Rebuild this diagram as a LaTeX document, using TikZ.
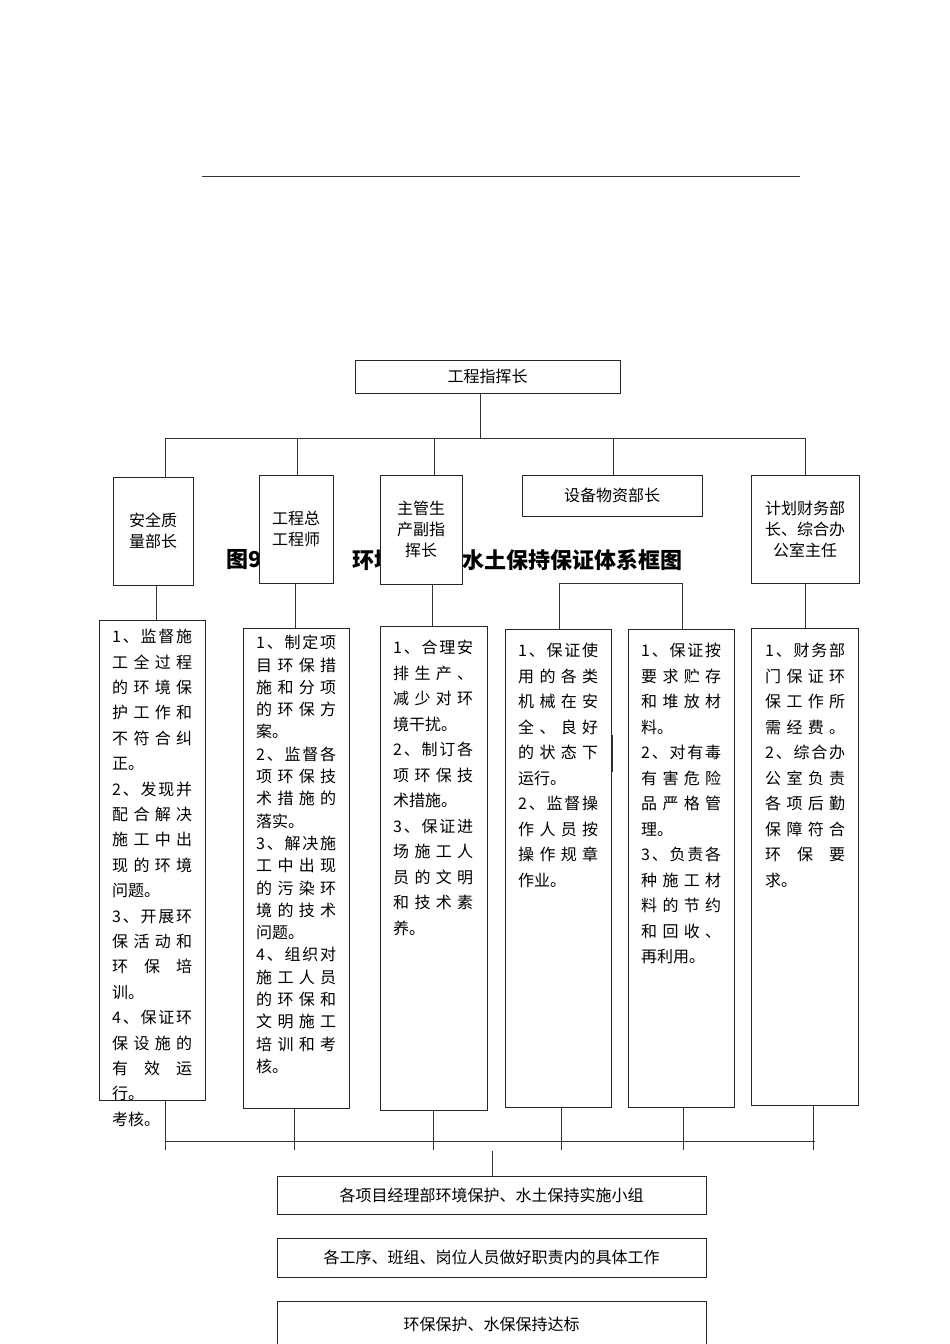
\documentclass[tikz,border=0pt]{standalone}
\usepackage{fontspec}
\setmainfont{Noto Sans CJK SC}
\newfontfamily\cjk{Noto Sans CJK SC}
\ExplSyntaxOn
\cs_new:Npn \spreadln #1 { \makebox[80pt][s]{ \tl_map_inline:nn {#1} { ##1 \hfil } \unskip } }
\ExplSyntaxOff
\newcommand\SL[1]{\spreadln{#1}}
\begin{document}
\begin{tikzpicture}[x=1pt,y=-1pt,
  box/.style={draw=black!85,line width=0.8pt,fill=white,inner sep=0pt,align=center,font=\fontsize{16}{21}\selectfont},
  txt/.style={anchor=north west,inner sep=0pt,align=left},
  ln/.style={draw=black!80,line width=0.8pt}]
\useasboundingbox (0,0) rectangle (950,1344);
\draw[ln] (202,176) coordinate (hl) -- (800,176) coordinate (hr);
% title (behind boxes)
\node[anchor=west,inner sep=0pt,font=\fontsize{22}{22}\selectfont\bfseries] (t1) at (226,560) {图9};
\node[anchor=west,inner sep=0pt,font=\fontsize{22}{22}\selectfont\bfseries] (t2) at (352,560) {环境保护、水土保持保证体系框图};
% top
\node[box,minimum width=265pt,minimum height=33pt] (top) at (487.5,376.5) {工程指挥长};
\coordinate (bus) at (480,438);
\draw[ln] (top.south -| 480,0) -- (bus);
\draw[ln] (165,438) -- (805,438);
\node[box,minimum width=80pt,minimum height=108pt] (A) at (153,531) {安全质\\量部长};
\node[box,minimum width=74pt,minimum height=108pt] (B) at (296,529) {工程总\\工程师};
\node[box,minimum width=82pt,minimum height=109pt] (C) at (421,529.5) {主管生\\产副指\\挥长};
\node[box,minimum width=180pt,minimum height=41pt] (D) at (612,495.5) {设备物资部长};
\node[box,minimum width=108pt,minimum height=108pt] (E) at (805,529) {计划财务部\\长、综合办\\公室主任};
\draw[ln] (165,438) -- (A.north -| 165,0);
\draw[ln] (297,438) -- (B.north -| 297,0);
\draw[ln] (434,438) -- (C.north -| 434,0);
\draw[ln] (613,438) -- (D.north -| 613,0);
\draw[ln] (805,438) -- (E.north);
% lower boxes
\node[box,minimum width=106pt,minimum height=480pt] (A2) at (152,860) {};
\node[box,minimum width=106pt,minimum height=480pt] (B2) at (296,868) {};
\node[box,minimum width=107pt,minimum height=484pt] (C2) at (433.5,868) {};
\node[box,minimum width=106pt,minimum height=478pt] (D1) at (558,868) {};
\node[box,minimum width=106pt,minimum height=478pt] (D2) at (681,868) {};
\node[box,minimum width=107pt,minimum height=477pt] (E2) at (804.5,866.5) {};
\draw[ln] (A.south -| 156,0) -- (A2.north -| 156,0);
\draw[ln] (B.south -| 295,0) -- (B2.north -| 295,0);
\draw[ln] (C.south -| 432,0) -- (C2.north -| 432,0);
\draw[ln] (D1.north -| 559,0) -- (559,583) -- (682,583) -- (D2.north -| 682,0);
\draw[ln] (E.south -| 805,0) -- (E2.north -| 805,0);
\draw[ln] (612,735) -- (612,772);
% texts
\node[txt,font=\fontsize{16}{25.4}\selectfont] (ta) at (112,629) {\SL{1、监督施}\\\SL{工全过程}\\\SL{的环境保}\\\SL{护工作和}\\\SL{不符合纠}\\正。\\\SL{2、发现并}\\\SL{配合解决}\\\SL{施工中出}\\\SL{现的环境}\\问题。\\\SL{3、开展环}\\\SL{保活动和}\\\SL{环保培}\\训。\\\SL{4、保证环}\\\SL{保设施的}\\\SL{有效运}\\行。\\考核。};
\node[txt,font=\fontsize{16}{22.3}\selectfont] (tb) at (256,635) {\SL{1、制定项}\\\SL{目环保措}\\\SL{施和分项}\\\SL{的环保方}\\案。\\\SL{2、监督各}\\\SL{项环保技}\\\SL{术措施的}\\落实。\\\SL{3、解决施}\\\SL{工中出现}\\\SL{的污染环}\\\SL{境的技术}\\问题。\\\SL{4、组织对}\\\SL{施工人员}\\\SL{的环保和}\\\SL{文明施工}\\\SL{培训和考}\\核。};
\node[txt,font=\fontsize{16}{25.5}\selectfont] (tc) at (393,640) {\SL{1、合理安}\\\SL{排生产、}\\\SL{减少对环}\\境干扰。\\\SL{2、制订各}\\\SL{项环保技}\\术措施。\\\SL{3、保证进}\\\SL{场施工人}\\\SL{员的文明}\\\SL{和技术素}\\养。};
\node[txt,font=\fontsize{16}{25.5}\selectfont] (td1) at (518,643) {\SL{1、保证使}\\\SL{用的各类}\\\SL{机械在安}\\\SL{全、良好}\\\SL{的状态下}\\运行。\\\SL{2、监督操}\\\SL{作人员按}\\\SL{操作规章}\\作业。};
\node[txt,font=\fontsize{16}{25.5}\selectfont] (td2) at (641,643) {\SL{1、保证按}\\\SL{要求贮存}\\\SL{和堆放材}\\料。\\\SL{2、对有毒}\\\SL{有害危险}\\\SL{品严格管}\\理。\\\SL{3、负责各}\\\SL{种施工材}\\\SL{料的节约}\\\SL{和回收、}\\再利用。};
\node[txt,font=\fontsize{16}{25.5}\selectfont] (te) at (765,643) {\SL{1、财务部}\\\SL{门保证环}\\\SL{保工作所}\\\SL{需经费。}\\\SL{2、综合办}\\\SL{公室负责}\\\SL{各项后勤}\\\SL{保障符合}\\\SL{环保要}\\求。};
% bottom bus
\draw[ln] (166,1141) -- (815,1141);
\draw[ln] (A2.south -| 165,0) -- (165,1150);
\draw[ln] (B2.south -| 294,0) -- (294,1150);
\draw[ln] (C2.south -| 433,0) -- (433,1150);
\draw[ln] (D1.south -| 561,0) -- (561,1150);
\draw[ln] (D2.south -| 683,0) -- (683,1150);
\draw[ln] (E2.south -| 813,0) -- (813,1150);
\node[box,minimum width=429pt,minimum height=38pt] (F1) at (491.5,1195) {各项目经理部环境保护、水土保持实施小组};
\node[box,minimum width=429pt,minimum height=39pt] (F2) at (491.5,1257.5) {各工序、班组、岗位人员做好职责内的具体工作};
\node[box,minimum width=429pt,minimum height=45pt,text depth=-12pt] (F3) at (491.5,1323.5) {环保保护、水保保持达标};
\draw[ln] (492,1151) -- (F1.north -| 492,0);
\end{tikzpicture}
\end{document}
